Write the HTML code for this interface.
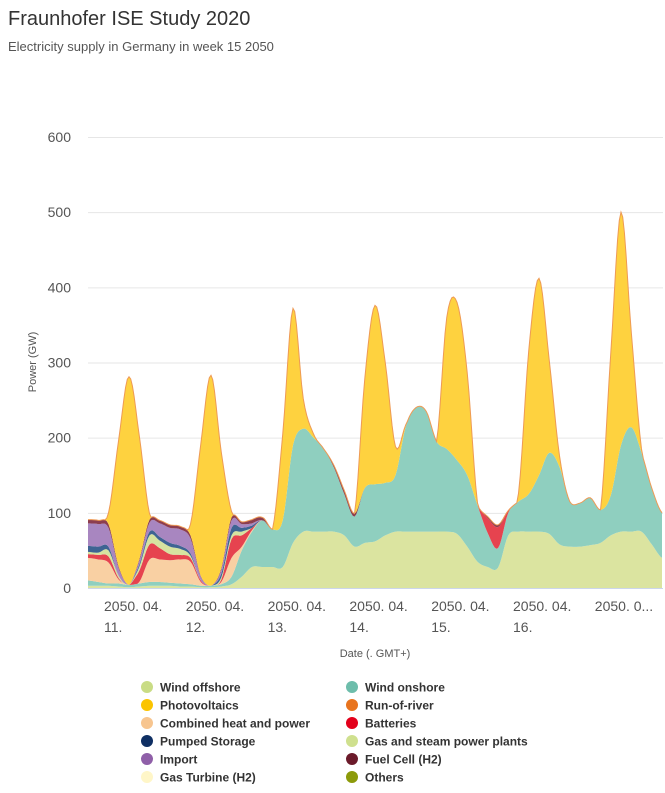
<!DOCTYPE html>
<html><head><meta charset="utf-8">
<style>
body{margin:0;background:#fff;font-family:"Liberation Sans",sans-serif;}
svg text{font-family:"Liberation Sans",sans-serif;}
</style></head>
<body>
<svg id="chart" width="665" height="788" xmlns="http://www.w3.org/2000/svg">
<rect width="665" height="788" fill="#fff"/>
<text x="8" y="25" font-size="20" fill="#333">Fraunhofer ISE Study 2020</text>
<text x="8" y="51" font-size="13" fill="#555">Electricity supply in Germany in week 15 2050</text>
<g id="grid"></g>
<g id="areas"></g>
<line x1="88" y1="588.5" x2="663" y2="588.5" stroke="#ccd6eb" stroke-width="1"/>
<g id="ylabels"></g>
<g id="xlabels"></g>
<text transform="translate(36,362) rotate(-90)" text-anchor="middle" font-size="11" fill="#555">Power (GW)</text>
<text x="375" y="657" text-anchor="middle" font-size="11" fill="#555">Date (. GMT+)</text>
<g id="legend"></g>
</svg>
<script>
const yTicks=[0,100,200,300,400,500,600];
const dayLabels=["11.","12.","13.","14.","15.","16.",""];
const dayLabelTop=["2050. 04.","2050. 04.","2050. 04.","2050. 04.","2050. 04.","2050. 04.","2050. 0..."];
const windOffshore=[3,3,3,2,1,2,3,3, 3,2,2,1,1,2,5,15, 28,28,28,28,60,75,75,75, 75,70,55,60,62,70,75,75, 75,75,75,75,72,55,35,28, 27,70,75,75,75,72,58,55, 55,57,60,70,75,75,75,58, 40];
const windOnshore=[7,5,3,4,3,4,5,5, 4,4,3,2,2,3,10,35, 47,62,50,62,130,137,125,110, 85,55,40,73,76,70,75,140, 165,160,120,110,98,95,75,45, 26,30,40,50,75,108,103,60, 58,63,44,53,115,139,105,75, 60];
const chp=[30,30,28,5,0,2,30,30, 30,32,30,5,0,3,25,5, 2,0,0,0,0,0,0,0, 0,0,0,0,0,0,0,0, 0,0,0,0,0,0,0,0, 0,0,0,0,0,0,0,0, 0,0,0,0,0,0,0,0, 0];
const batteries=[5,6,8,2,0,15,20,15, 8,6,5,2,0,3,25,15, 3,0,0,0,0,0,0,0, 0,0,0,0,0,0,0,0, 0,0,0,0,0,0,0,20, 28,3,0,0,0,0,0,0, 0,0,0,0,0,0,0,0, 0];
const gasSteam=[3,3,8,3,0,5,12,10, 10,8,3,0,0,3,5,5, 0,0,0,0,0,0,0,0, 0,0,0,0,0,0,0,0, 0,0,0,0,0,0,0,0, 0,0,0,0,0,0,0,0, 0,0,0,0,0,0,0,0, 0];
const pumped=[8,8,5,0,0,3,5,5, 5,4,3,0,0,5,10,5, 3,0,0,0,0,0,0,0, 0,0,0,0,0,0,0,0, 0,0,0,0,0,0,0,0, 0,0,0,0,0,0,0,0, 0,0,0,0,0,0,0,0, 0];
const importPow=[30,30,25,10,0,5,12,18, 20,22,20,5,0,5,10,5, 3,0,0,0,0,0,0,0, 0,0,0,0,0,0,0,0, 0,0,0,0,0,0,0,0, 0,0,0,0,0,0,0,0, 0,0,0,0,0,0,0,0, 0];
const fuelCell=[5,5,5,2,0,2,4,4, 4,4,4,1,0,2,4,3, 5,4,0,0,0,0,0,0, 3,5,4,0,0,0,0,0, 0,0,0,0,0,0,0,2, 3,0,0,0,0,0,0,0, 0,0,0,0,0,0,0,0, 0];
const pv=[0,0,15,170,277,165,8,0, 0,0,15,175,280,155,8,0, 0,0,0,115,182,40,5,0, 0,0,0,145,238,160,38,2, 0,0,0,175,210,136,3,0, 0,0,11,191,262,123,15,0, 0,0,0,189,310,127,5,0, 0];

const NS="http://www.w3.org/2000/svg";
const X0=88,X1=662,Y0=588,YPX=0.7517,N=windOffshore.length,SUB=6;
const xs=i=>X0+(X1-X0)*i/(N-1);
const ys=v=>Y0-v*YPX;
function mk(tag,attrs,parent){const e=document.createElementNS(NS,tag);for(const k in attrs)e.setAttribute(k,attrs[k]);parent.appendChild(e);return e;}
// Catmull-Rom resampling (rendering only), clamped at 0
function smooth(v){
  const out=[];
  for(let i=0;i<N-1;i++){
    const p0=v[Math.max(0,i-1)],p1=v[i],p2=v[i+1],p3=v[Math.min(N-1,i+2)];
    for(let s=0;s<SUB;s++){
      const t=s/SUB,t2=t*t,t3=t2*t;
      let y=0.5*((2*p1)+(-p0+p2)*t+(2*p0-5*p1+4*p2-p3)*t2+(-p0+3*p1-3*p2+p3)*t3);
      out.push(Math.max(0,y));
    }
  }
  out.push(v[N-1]);
  return out;
}
const M=(N-1)*SUB+1;
const xm=j=>X0+(X1-X0)*j/(M-1);
const grid=document.getElementById('grid'),yl=document.getElementById('ylabels');
yTicks.forEach(t=>{
  if(t>0){const l=mk('line',{x1:88,x2:663,y1:ys(t)+0.5,y2:ys(t)+0.5,stroke:'#e6e6e6'},grid);
  
  }
  const tx=mk('text',{x:71,y:ys(t)+5,'text-anchor':'end','font-size':'14',fill:'#555'},yl);
  tx.textContent=t;
  
  
});
const series=[
 ['wind-offshore',windOffshore,'#dbe4a0'],
 ['wind-onshore',windOnshore,'#8fcfbf'],
 ['combined-heat-and-power',chp,'#f9d0a3'],
 ['batteries',batteries,'#e6434f'],
 ['gas-and-steam',gasSteam,'#d6e3a0'],
 ['pumped-storage',pumped,'#3e6493'],
 ['import',importPow,'#a886c0'],
 ['fuel-cell',fuelCell,'#8c3d4f'],
 ['photovoltaics',pv,'#fed23f']
];
const areas=document.getElementById('areas');
let base=new Array(M).fill(0);
series.forEach(([name,vals,col])=>{
  const sv=smooth(vals);
  const top=base.map((b,i)=>b+sv[i]);
  let d='M'+xm(0)+','+ys(top[0]);
  for(let i=1;i<M;i++)d+='L'+xm(i).toFixed(2)+','+ys(top[i]).toFixed(2);
  for(let i=M-1;i>=0;i--)d+='L'+xm(i).toFixed(2)+','+ys(base[i]).toFixed(2);
  d+='Z';
  const p=mk('path',{d:d,fill:col},areas);
  
  
  base=top;
});
let d='M'+xm(0)+','+ys(base[0]);
for(let i=1;i<M;i++)d+='L'+xm(i).toFixed(2)+','+ys(base[i]).toFixed(2);
const rr=mk('path',{d:d,fill:'none',stroke:'#ee9a55','stroke-width':1},areas);



const xl=document.getElementById('xlabels');
dayLabelTop.forEach((lab,i)=>{
  const x=104+i*81.8;
  const t=mk('text',{x:x,y:611,'font-size':'14',fill:'#555'},xl);
  t.textContent=lab;
  
  
  if(dayLabels[i]){const t2=mk('text',{x:x,y:632,'font-size':'14',fill:'#555'},xl);
  t2.textContent=dayLabels[i];
  
  }
});
const legendItems=[
 ['Wind offshore','#c9dc85'],['Wind onshore','#6dbdab'],
 ['Photovoltaics','#fbc400'],['Run-of-river','#e8741e'],
 ['Combined heat and power','#f7c58f'],['Batteries','#e3001b'],
 ['Pumped Storage','#0f2f63'],['Gas and steam power plants','#cfe08e'],
 ['Import','#8f5fa8'],['Fuel Cell (H2)','#6b1a2a'],
 ['Gas Turbine (H2)','#fff6c8'],['Others','#8c9a0a']
];
const lg=document.getElementById('legend');
legendItems.forEach(([lab,col],i)=>{
  const cx=i%2===0?147:352, y=687+Math.floor(i/2)*18;
  const g=mk('g',{},lg);
  
  
  mk('circle',{cx:cx,cy:y,r:6,fill:col},g);
  const t=mk('text',{x:cx+13,y:y+4.5,'font-size':'12','font-weight':'bold',fill:'#333'},g);
  t.textContent=lab;
});
</script>
</body></html>
